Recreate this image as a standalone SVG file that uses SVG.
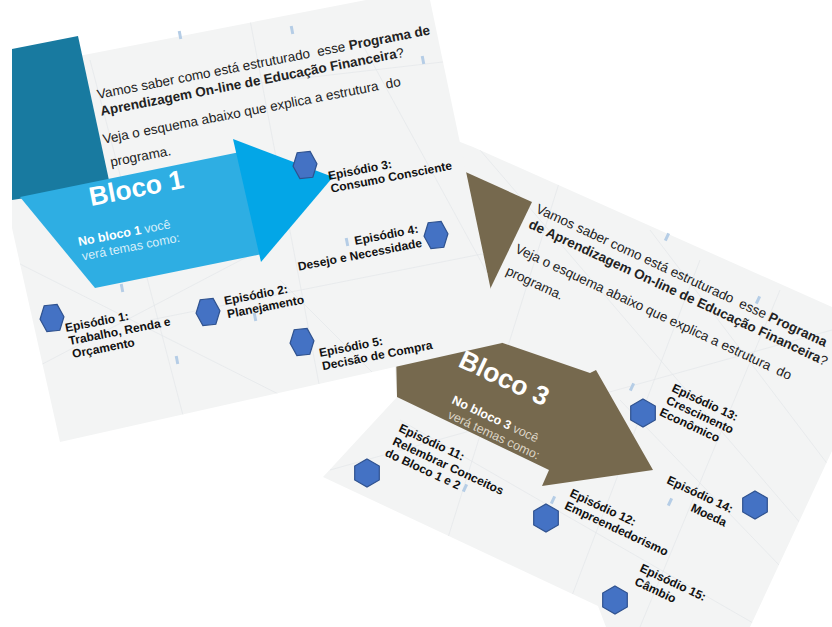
<svg xmlns="http://www.w3.org/2000/svg" xmlns:xlink="http://www.w3.org/1999/xlink" width="832" height="627" viewBox="0 0 832 627">
<defs>
<style>
text{font-family:"Liberation Sans",Arial,sans-serif;white-space:pre}
.title{font-size:13.5px;fill:#222}
.b{font-weight:bold}
.ep{font-size:12px;font-weight:bold;fill:#111}
.bloco{font-size:26.5px;font-weight:bold;fill:#fff}
.sub1{font-size:12.5px;fill:#d9effa}
.sub3{font-size:12.5px;fill:#ddd6c8}
.hex{fill:#4472c4;stroke:#2f528f;stroke-width:1.2}
.net{stroke:#e1e4e8;stroke-width:0.6;fill:none}
.tick{fill:#b5cde6}
</style>
<polygon id="hexA" points="-12,0 -6.5,-13 6.5,-13 12,0 6.5,13 -6.5,13"/>
<polygon id="hexB" points="0,-14 12.3,-7 12.3,7 0,14 -12.3,7 -12.3,-7"/>
<clipPath id="c1"><polygon points="12,69 366,0 430,0 502,343 60,442 12,228"/></clipPath>
<clipPath id="c2"><polygon points="455,140 473,147 832,307 832,451 750,627 606,627 598,606 323,477 397,397 390,300"/></clipPath>
</defs>
<rect width="832" height="627" fill="#fff"/>

<g id="slide2">
<polygon points="455,140 473,147 832,307 832,451 750,627 606,627 598,606 323,477 397,397 390,300" fill="#f3f4f4"/>
<g clip-path="url(#c2)" class="net">
<line x1="480" y1="150" x2="832" y2="560"/>
<line x1="560" y1="180" x2="420" y2="627"/>
<line x1="650" y1="230" x2="832" y2="470"/>
<line x1="330" y1="470" x2="832" y2="330"/>
<line x1="700" y1="260" x2="560" y2="627"/>
<line x1="400" y1="420" x2="760" y2="627"/>
<line x1="620" y1="400" x2="832" y2="620"/>
<line x1="780" y1="290" x2="640" y2="627"/>
</g>
<rect class="tick" x="-1.5" y="-4" width="3" height="8" transform="translate(667,237) rotate(25)"/>
<rect class="tick" x="-1.5" y="-4" width="3" height="8" transform="translate(758,300) rotate(25)"/>
<rect class="tick" x="-1.5" y="-4" width="3" height="8" transform="translate(632,387) rotate(25)"/>
<rect class="tick" x="-1.5" y="-4" width="3" height="8" transform="translate(670,502) rotate(25)"/>
<rect class="tick" x="-1.5" y="-4" width="3" height="8" transform="translate(553,500) rotate(25)"/>
<rect class="tick" x="-1.5" y="-4" width="3" height="8" transform="translate(465,488) rotate(25)"/>
<polygon points="450,165 532,202 480,310 450,300" fill="#76694e"/>
<g transform="translate(535,212) rotate(25)" class="title">
<text x="0" y="0">Vamos saber como está estruturado  esse <tspan class="b">Programa</tspan></text>
<text x="0" y="17"><tspan class="b">de Aprendizagem On-line de Educação Financeira</tspan>?</text>
<text x="-2" y="45">Veja o esquema abaixo que explica a estrutura  do</text>
<text x="-1" y="69">programa.</text>
</g>
<g id="bloco3">
<polygon points="395,306 590,373 596,370 653,470 542,486 549,470 397,397" fill="#76694e"/>
<text class="bloco" transform="translate(457,366) rotate(25)">Bloco 3</text>
<text class="sub3" transform="translate(451,403) rotate(25)"><tspan class="b" fill="#fff">No bloco 3</tspan> você<tspan x="2.7" y="15">verá temas como:</tspan></text>
</g>
<g id="ep11">
<use xlink:href="#hexB" class="hex" transform="translate(367,473)"/>
<text class="ep" transform="translate(398,431) rotate(25)"><tspan x="0" y="0">Episódio 11:</tspan><tspan x="0" y="14.5">Relembrar Conceitos</tspan><tspan x="-2" y="28">do Bloco 1 e 2</tspan></text>
</g>
<g id="ep12">
<use xlink:href="#hexB" class="hex" transform="translate(546,518)"/>
<text class="ep" transform="translate(569,496) rotate(25)"><tspan x="0" y="0">Episódio 12:</tspan><tspan x="0.5" y="13.5">Empreendedorismo</tspan></text>
</g>
<g id="ep13">
<use xlink:href="#hexB" class="hex" transform="translate(643,413)"/>
<text class="ep" transform="translate(671,391) rotate(25)"><tspan x="0" y="0">Episódio 13:</tspan><tspan x="0" y="13.5">Crescimento</tspan><tspan x="-1" y="27">Econômico</tspan></text>
</g>
<g id="ep14">
<use xlink:href="#hexB" class="hex" transform="translate(755,505)"/>
<text class="ep" text-anchor="end" transform="translate(666,483) rotate(25)"><tspan x="71.4" y="0">Episódio 14:</tspan><tspan x="71.4" y="15">Moeda</tspan></text>
</g>
<g id="ep15">
<use xlink:href="#hexB" class="hex" transform="translate(615,600)"/>
<text class="ep" transform="translate(639,571) rotate(25)"><tspan x="0" y="0">Episódio 15:</tspan><tspan x="1" y="14.5">Câmbio</tspan></text>
</g>
</g>

<g id="slide1">
<polygon points="12,69 366,0 430,0 502,343 60,442 12,228" fill="#f3f4f4"/>
<g clip-path="url(#c1)" class="net">
<line x1="12" y1="260" x2="330" y2="420"/>
<line x1="90" y1="60" x2="190" y2="442"/>
<line x1="150" y1="320" x2="502" y2="250"/>
<line x1="250" y1="20" x2="330" y2="442"/>
<line x1="12" y1="380" x2="260" y2="250"/>
<line x1="360" y1="40" x2="502" y2="300"/>
<line x1="200" y1="90" x2="460" y2="60"/>
<line x1="280" y1="280" x2="420" y2="420"/>
</g>
<rect class="tick" x="-1.5" y="-4" width="3" height="8" transform="translate(180,35) rotate(-11)"/>
<rect class="tick" x="-1.5" y="-4" width="3" height="8" transform="translate(292,30) rotate(-11)"/>
<rect class="tick" x="-1.5" y="-4" width="3" height="8" transform="translate(423,60) rotate(-11)"/>
<rect class="tick" x="-1.5" y="-4" width="3" height="8" transform="translate(122,288) rotate(-11)"/>
<rect class="tick" x="-1.5" y="-4" width="3" height="8" transform="translate(177,360) rotate(-11)"/>
<rect class="tick" x="-1.5" y="-4" width="3" height="8" transform="translate(255,317) rotate(-11)"/>
<rect class="tick" x="-1.5" y="-4" width="3" height="8" transform="translate(347,242) rotate(-11)"/>
<polygon points="12,49 78,36 110,185 12,200" fill="#187aa0"/>
<g transform="translate(98,99) rotate(-11)" class="title">
<text x="0" y="0">Vamos saber como está estruturado  esse <tspan class="b">Programa de</tspan></text>
<text x="0" y="17"><tspan class="b">Aprendizagem On-line de Educação Financeira</tspan>?</text>
<text x="-3" y="45">Veja o esquema abaixo que explica a estrutura  do</text>
<text x="0" y="69">programa.</text>
</g>
<g id="bloco1">
<polygon points="20,197 240,152 262,254 95,288" fill="#2eaee3"/>
<polygon points="233,139 333,177 261,262" fill="#03a6e7"/>
<text class="bloco" transform="translate(91,206) rotate(-11)">Bloco 1</text>
<text class="sub1" transform="translate(79,246) rotate(-11)"><tspan class="b" fill="#fff">No bloco 1</tspan> você<tspan x="1" y="15">verá temas como:</tspan></text>
</g>
<g id="ep1">
<use xlink:href="#hexA" class="hex" transform="translate(52,318) rotate(-6)"/>
<text class="ep" transform="translate(66,332) rotate(-11)"><tspan x="0" y="0">Episódio 1:</tspan><tspan x="1" y="13.5">Trabalho, Renda e</tspan><tspan x="2" y="27">Orçamento</tspan></text>
</g>
<g id="ep2">
<use xlink:href="#hexA" class="hex" transform="translate(208,312) rotate(-6)"/>
<text class="ep" transform="translate(225,305) rotate(-11)"><tspan x="0" y="0">Episódio 2:</tspan><tspan x="0.5" y="13.5">Planejamento</tspan></text>
</g>
<g id="ep3">
<use xlink:href="#hexA" class="hex" transform="translate(305,165) rotate(-6)"/>
<text class="ep" transform="translate(329,180) rotate(-11)"><tspan x="0" y="0">Episódio 3:</tspan><tspan x="0" y="13">Consumo Consciente</tspan></text>
</g>
<g id="ep4">
<use xlink:href="#hexA" class="hex" transform="translate(436,235) rotate(-6)"/>
<text class="ep" text-anchor="end" transform="translate(355,245) rotate(-11)"><tspan x="65" y="0">Episódio 4:</tspan><tspan x="66" y="14.5">Desejo e Necessidade</tspan></text>
</g>
<g id="ep5">
<use xlink:href="#hexA" class="hex" transform="translate(302,342) rotate(-6)"/>
<text class="ep" transform="translate(320,357) rotate(-11)"><tspan x="0" y="0">Episódio 5:</tspan><tspan x="0.5" y="13.5">Decisão de Compra</tspan></text>
</g>
</g>
<g id="connectors"></g>
</svg>
